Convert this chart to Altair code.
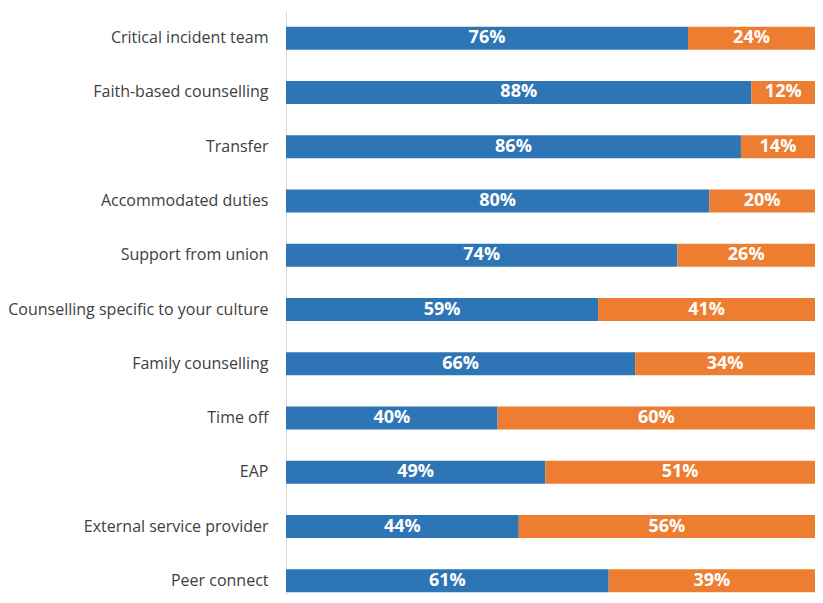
import altair as alt
import pandas as pd

categories = [
    "Critical incident team",
    "Faith-based counselling",
    "Transfer",
    "Accommodated duties",
    "Support from union",
    "Counselling specific to your culture",
    "Family counselling",
    "Time off",
    "EAP",
    "External service provider",
    "Peer connect",
]
series_a = [76, 88, 86, 80, 74, 59, 66, 40, 49, 44, 61]
series_b = [24, 12, 14, 20, 26, 41, 34, 60, 51, 56, 39]
series_names = ["Yes", "No"]
colors = ["#2e75b6", "#ed7d31"]

rows = []
for c, a, b in zip(categories, series_a, series_b):
    rows.append({"category": c, "series": series_names[0], "value": a, "order": 0})
    rows.append({"category": c, "series": series_names[1], "value": b, "order": 1})
df = pd.DataFrame(rows)

yenc = alt.Y(
    "category:N",
    sort=categories,
    title=None,
    scale=alt.Scale(domain=categories, range=[0, 597], paddingInner=0.576, paddingOuter=0.288),
    axis=alt.Axis(
        domainColor="#d9d9d9",
        domainWidth=1,
        ticks=False,
        labelPadding=18,
        labelFont="Open Sans",
        labelFontSize=16,
        labelColor="#404040",
        labelLimit=300,
    ),
)

base = alt.Chart(df).transform_stack(
    stack="value",
    groupby=["category"],
    as_=["x0", "x1"],
    sort=[alt.SortField("order", "ascending")],
)

xscale = alt.Scale(domain=[0, 100], nice=False, zero=True)

bars = base.mark_bar().encode(
    y=yenc,
    x=alt.X("x0:Q", scale=xscale, axis=None),
    x2="x1:Q",
    color=alt.Color(
        "series:N",
        scale=alt.Scale(domain=series_names, range=colors),
        legend=None,
    ),
)

text = base.transform_calculate(
    mid="(datum.x0 + datum.x1) / 2",
    label="datum.value + '%'",
).mark_text(
    color="white",
    fontWeight="bold",
    font="Open Sans",
    fontSize=18,
    baseline="middle",
    align="center",
).encode(
    y=alt.Y("category:N", sort=categories),
    x=alt.X("mid:Q", scale=xscale),
    text="label:N",
)

chart = (
    alt.layer(bars, text)
    .properties(
        width=529,
        height=582,
        autosize=alt.AutoSizeParams(type="none"),
        padding={"left": 278, "top": 3, "right": 0, "bottom": 2},
    )
    .configure_view(stroke=None)
)

chart.save("out.html", embed_options={"renderer": "svg", "actions": False})
